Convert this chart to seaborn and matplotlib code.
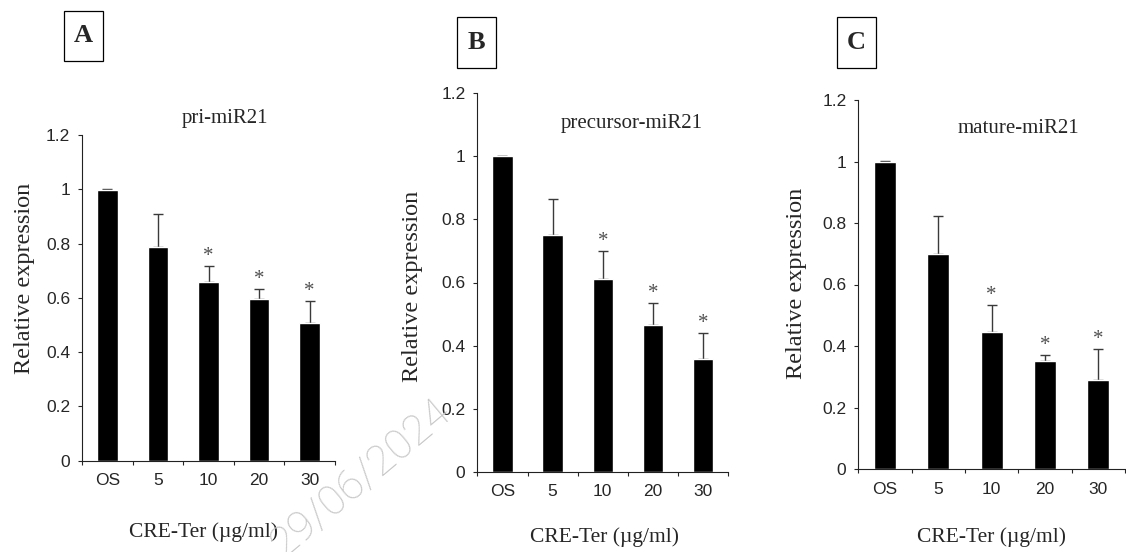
import numpy as np
import matplotlib
matplotlib.use("Agg")
import matplotlib.pyplot as plt
import seaborn as sns
from matplotlib.patches import Rectangle
from matplotlib.ticker import FuncFormatter

# données
doses = ["OS", "5", "10", "20", "30"]
pri_mean = [0.998, 0.787, 0.657, 0.595, 0.508]
pri_sd = [0.003, 0.123, 0.059, 0.039, 0.082]
pre_mean = [1.0, 0.752, 0.612, 0.466, 0.356]
pre_sd = [0.0, 0.112, 0.089, 0.070, 0.084]
mat_mean = [0.998, 0.699, 0.445, 0.350, 0.289]
mat_sd = [0.003, 0.124, 0.088, 0.022, 0.101]
signif = [False, False, True, True, True]
titles = ["pri-miR21", "precursor-miR21", "mature-miR21"]
letters = ["A", "B", "C"]
y_ticks = [0, 0.2, 0.4, 0.6, 0.8, 1.0, 1.2]

sns.set_style("ticks")
plt.rcParams["font.family"] = ["Liberation Serif", "DejaVu Serif"]

W, H = 1126, 552
fig = plt.figure(figsize=(W / 100, H / 100), dpi=100)

# position des axes en pixels (gauche, haut, droite, bas)
boxes = [(82, 135, 335, 460.7), (477.3, 93.3, 728.3, 471.7), (858.3, 100, 1125, 469)]
title_pos = [(0.565, 1.052), (0.615, 0.921), (0.600, 0.923)]
ylab_pos = [(-0.229, 0.561), (-0.260, 0.491), (-0.230, 0.503)]
xlab_pos = [(0.482, -0.218), (0.505, -0.172), (0.500, -0.184)]
letter_box = [(64, 10.7, 103.3, 60.7), (457.3, 17.3, 495.7, 67.7), (836.7, 17.3, 876, 67.7)]

series = [(pri_mean, pri_sd), (pre_mean, pre_sd), (mat_mean, mat_sd)]

for k, (means, sds) in enumerate(series):
    l, t, r, b = boxes[k]
    ax = fig.add_axes([l / W, (H - b) / H, (r - l) / W, (b - t) / H])
    sns.barplot(x=doses, y=means, color="black", saturation=1, width=0.41, ax=ax, zorder=2)
    ax.errorbar(range(len(doses)), means, yerr=[np.zeros(len(sds)), sds], fmt="none",
                ecolor="#3a3a3a", elinewidth=1, capsize=3.5, capthick=1, zorder=1)
    for i, s in enumerate(signif):
        if s:
            ax.annotate("*", (i, means[i] + sds[i]), xytext=(0, 0), textcoords="offset points",
                        ha="center", va="bottom", fontsize=15, color="#505050")

    ax.set_xlim(-0.5, len(doses) - 0.5)
    ax.set_ylim(0, 1.2)
    ax.set_yticks(y_ticks)
    ax.yaxis.set_major_formatter(FuncFormatter(lambda v, p: f"{v:g}"))
    ax.set_xticks(np.arange(-0.5, len(doses), 1), minor=True)
    ax.tick_params(axis="x", which="major", length=0, pad=9)
    ax.tick_params(axis="x", which="minor", length=3, width=0.8, direction="out")
    ax.tick_params(axis="y", length=3, width=0.8, pad=5.5)
    for lab in ax.get_xticklabels() + ax.get_yticklabels():
        lab.set_fontfamily("Liberation Sans")
        lab.set_fontsize(12.5)
    sns.despine(ax=ax)
    for sp in ["left", "bottom"]:
        ax.spines[sp].set_linewidth(0.8)
        ax.spines[sp].set_color("#222222")

    ax.set_ylabel("Relative expression", fontsize=17.5)
    ax.yaxis.set_label_coords(*ylab_pos[k])
    ax.yaxis.label.set_va("center")
    ax.set_xlabel("CRE-Ter (µg/ml)", fontsize=15.5)
    ax.xaxis.set_label_coords(*xlab_pos[k])
    ax.xaxis.label.set_va("center")
    ax.text(*title_pos[k], titles[k], transform=ax.transAxes, ha="center", va="center",
            fontsize=15)

    # lettre du panneau dans un cadre
    x0, y0, x1, y1 = letter_box[k]
    fig.patches.append(Rectangle((x0 / W, (H - y1) / H), (x1 - x0) / W, (y1 - y0) / H,
                                 transform=fig.transFigure, fill=False, lw=0.9, ec="black"))
    fig.text((x0 + x1) / 2 / W, (H - (y0 + y1) / 2) / H, letters[k], ha="center", va="center",
             fontsize=19, fontweight="bold")

# filigrane de date (coupé par le bord bas, comme dans l'original)
fig.text(361 / W, (H - 478) / H, "29/06/2024", rotation=40, rotation_mode="anchor",
         ha="center", va="center", fontsize=31, color="#c8c8c8",
         family=["Roboto", "DejaVu Sans"], fontweight="light", zorder=0)

fig.savefig("out.png", dpi=100)
